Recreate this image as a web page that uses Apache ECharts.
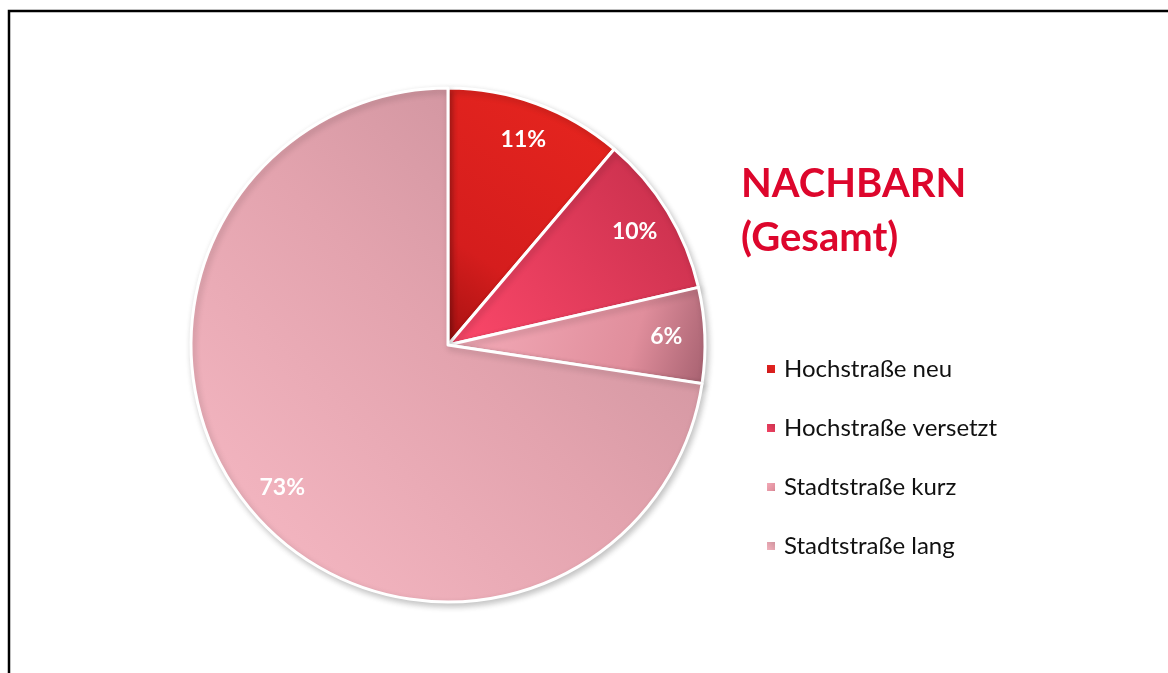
<!DOCTYPE html>
<html>
<head>
<meta charset="utf-8">
<script src="https://cdn.jsdelivr.net/npm/echarts@6/dist/echarts.min.js"></script>
<style>
	html, body { margin: 0; padding: 0; background: #fff; }
	#chart { width: 1168px; height: 673px; }
</style>
</head>
<body>
<div id="chart"></div>
<script>
	var names = ['Hochstraße neu', 'Hochstraße versetzt', 'Stadtstraße kurz', 'Stadtstraße lang'];
	// shares in percent (labels show them rounded)
	var values = [11.2, 10.2, 6.0, 72.6];
	var titleLines = ['NACHBARN', '(Gesamt)'];

	// slice fills (gradient start / end), same order as names
	var fills = [
		{ x: 0, y: 1, x2: 1, y2: 0, stops: [[0, '#a51111'], [0.3, '#d51d1d'], [1, '#e8261f']] },
		{ x: 0, y: 1, x2: 1, y2: 0, stops: [[0, '#fc486a'], [1, '#c32d49']] },
		{ x: 0, y: 0.2, x2: 1, y2: 1, stops: [[0, '#f5adba'], [0.7, '#e08e9c'], [1, '#a5606f']] },
		{ x: 0, y: 1, x2: 1, y2: 0, stops: [[0, '#f8bbc6'], [0.5, '#e3a3ae'], [1, '#c48b96']] }
	];

	function grad(f) {
		return new echarts.graphic.LinearGradient(f.x, f.y, f.x2, f.y2, f.stops.map(function (s) {
			return { offset: s[0], color: s[1] };
		}));
	}

	var data = [];
	var labelData = [];
	for (var i = 0; i < names.length; i++) {
		data.push({ name: names[i], value: values[i], itemStyle: { color: grad(fills[i]) } });
		labelData.push({ name: names[i], value: values[i] });
	}

	var chart = echarts.init(document.getElementById('chart'));
	var option = {
		animation: false,
		backgroundColor: '#fff',
		graphic: [{
			type: 'rect',
			shape: { x: 9, y: 11, width: 1200, height: 700 },
			style: { fill: 'none', stroke: '#000', lineWidth: 2.5 },
			z: 100
		}],
		title: {
			text: titleLines.join('\n'),
			left: 736,
			top: 152,
			textStyle: {
				fontFamily: 'Lato',
				fontWeight: 'bold',
				fontSize: 40,
				lineHeight: 54,
				color: '#dd062c'
			}
		},
		legend: {
			orient: 'vertical',
			left: 765,
			top: 356,
			padding: 0,
			icon: 'rect',
			itemWidth: 10,
			itemHeight: 10,
			itemGap: 33,
			data: names,
			textStyle: {
				fontFamily: 'Lato',
				fontSize: 24,
				lineHeight: 26,
				color: '#111',
				padding: [0, 0, 0, 3]
			}
		},
		series: [{
			type: 'pie',
			center: [448, 345],
			radius: [0, 257],
			startAngle: 90,
			clockwise: true,
			silent: true,
			label: { show: false },
			labelLine: { show: false },
			itemStyle: {
				borderColor: '#fff',
				borderWidth: 3,
				shadowBlur: 6,
				shadowOffsetX: 2,
				shadowOffsetY: 3,
				shadowColor: 'rgba(0,0,0,0.22)'
			},
			data: data
		}, {
			// transparent ring only to place the percentage labels
			type: 'pie',
			center: [448, 345],
			radius: [174, 257],
			startAngle: 90,
			clockwise: true,
			silent: true,
			legendHoverLink: false,
			itemStyle: { color: 'rgba(0,0,0,0)' },
			label: {
				show: true,
				position: 'inside',
				formatter: function (p) { return Math.round(p.value) + '%'; },
				fontFamily: 'Lato',
				fontWeight: 'bold',
				fontSize: 23,
				color: '#fff'
			},
			labelLine: { show: false },
			data: labelData
		}]
	};
	chart.setOption(option);
</script>
</body>
</html>
